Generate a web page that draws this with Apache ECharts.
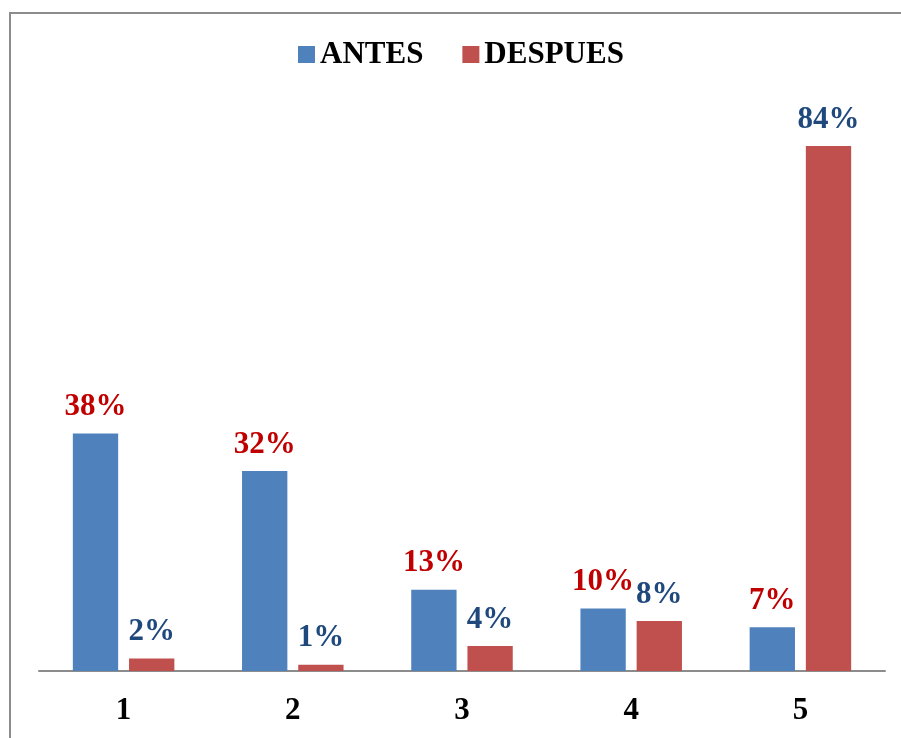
<!DOCTYPE html>
<html>
<head>
<meta charset="utf-8">
<style>
  html, body { margin: 0; padding: 0; background: #fff; }
  #chart { width: 901px; height: 738px; }
</style>
<script src="https://cdn.jsdelivr.net/npm/echarts@6/dist/echarts.min.js"></script>
</head>
<body>
<div id="chart"></div>
<script>
// Categories and percentages per group
const categories = ['1', '2', '3', '4', '5'];
const antes = [38, 32, 13, 10, 7];
const despues = [2, 1, 4, 8, 84];

const serif = '"Liberation Serif", "Times New Roman", serif';

const chart = echarts.init(document.getElementById('chart'), null, { renderer: 'canvas' });

chart.setOption({
  animation: false,
  backgroundColor: '#ffffff',
  graphic: [{
    type: 'rect',
    shape: { x: 10, y: 13, width: 1000, height: 1000 },
    style: { fill: 'none', stroke: '#8c8c8c', lineWidth: 2 },
    silent: true
  }],
  legend: {
    top: 34,
    left: 293,
    itemWidth: 17,
    itemHeight: 17,
    itemGap: 39,
    icon: 'rect',
    textStyle: { fontFamily: serif, fontWeight: 'bold', fontSize: 31, color: '#000' },
    data: ['ANTES', 'DESPUES']
  },
  grid: { left: 39, right: 16, top: 108.5, bottom: 67 },
  xAxis: {
    type: 'category',
    data: categories,
    axisLine: { lineStyle: { color: '#8c8c8c', width: 2 } },
    axisTick: { show: false },
    axisLabel: { margin: 24, fontFamily: serif, fontWeight: 'bold', fontSize: 31, color: '#000' }
  },
  yAxis: {
    type: 'value',
    min: 0,
    max: 90,
    interval: 10,
    show: false,
    splitLine: { show: false }
  },
  series: [
    {
      name: 'ANTES',
      type: 'bar',
      data: antes,
      barGap: '24%',
      barCategoryGap: '40%',
      itemStyle: { color: '#4F81BD' },
      label: {
        show: true,
        position: 'top',
        distance: 11,
        formatter: '{c}%',
        fontFamily: serif,
        fontWeight: 'bold',
        fontSize: 31,
        color: '#C00000'
      }
    },
    {
      name: 'DESPUES',
      type: 'bar',
      data: despues,
      itemStyle: { color: '#C0504D' },
      label: {
        show: true,
        position: 'top',
        distance: 11,
        formatter: '{c}%',
        fontFamily: serif,
        fontWeight: 'bold',
        fontSize: 31,
        color: '#1F497D'
      }
    }
  ]
});
</script>
</body>
</html>
